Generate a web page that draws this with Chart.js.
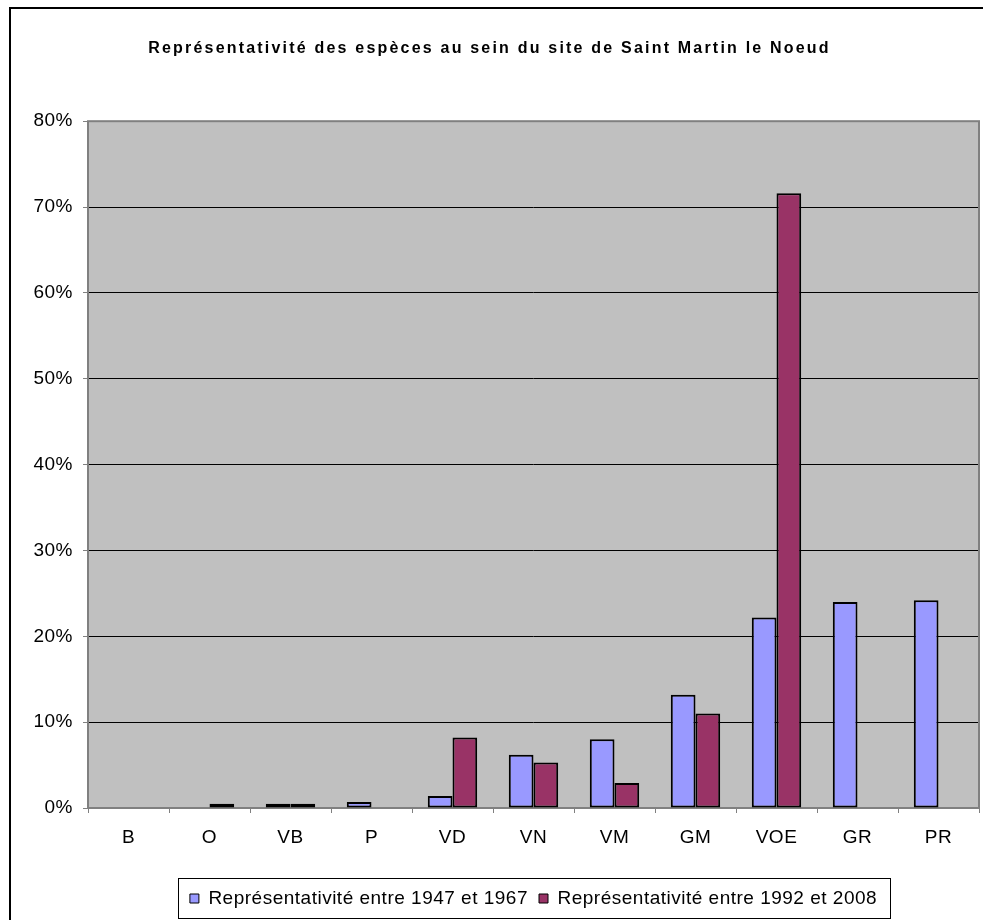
<!DOCTYPE html>
<html>
<head>
<meta charset="utf-8">
<script src="https://cdn.jsdelivr.net/npm/chart.js@4.4.0/dist/chart.umd.min.js"></script>
<style>
  body { margin: 0; background: #fff; }
  canvas { display: block; }
</style>
</head>
<body>
<canvas id="myChart" width="983" height="920"></canvas>
<script>
var categories = ["B", "O", "VB", "P", "VD", "VN", "VM", "GM", "VOE", "GR", "PR"];
var seriesLabels = ["Représentativité entre 1947 et 1967", "Représentativité entre 1992 et 2008"];
var values1947 = [0, 0, 0.5, 0.7, 1.4, 6.2, 8.0, 13.2, 22.2, 24.0, 24.2];
var values1992 = [0, 0.5, 0.5, 0, 8.2, 5.3, 2.9, 11.0, 71.6, 0, 0];
var yMax = 80;
var yStep = 10;
var titleText = "Représentativité des espèces au sein du site de Saint Martin le Noeud";

var fontFamily = "'Liberation Sans', Arial, sans-serif";

// plot background, frame, legend box, outer border
const decoPlugin = {
  id: "deco",
  afterInit(chart) {
    // title has wider letter spacing than the rest
    const tb = chart.titleBlock;
    const orig = tb.draw;
    tb.draw = function () {
      this.ctx.save();
      this.ctx.letterSpacing = "2.2px";
      orig.apply(this, arguments);
      this.ctx.restore();
    };
  },
  beforeLayout(chart) {
    chart.ctx.letterSpacing = "0.5px";
  },
  beforeDraw(chart) {
    const ctx = chart.ctx;
    const a = chart.chartArea;
    ctx.letterSpacing = "0.5px";
    ctx.save();
    ctx.fillStyle = "#fff";
    ctx.fillRect(0, 0, chart.width, chart.height);
    ctx.fillStyle = "#c0c0c0";
    ctx.fillRect(a.left, a.top, a.right - a.left, a.bottom - a.top);
    // outer frame
    ctx.strokeStyle = "#000";
    ctx.lineWidth = 2;
    ctx.beginPath();
    ctx.moveTo(10, chart.height + 5);
    ctx.lineTo(10, 8);
    ctx.lineTo(chart.width + 5, 8);
    ctx.stroke();
    ctx.restore();
  },
  beforeDatasetsDraw(chart) {
    const ctx = chart.ctx;
    const a = chart.chartArea;
    ctx.save();
    ctx.strokeStyle = "#808080";
    ctx.lineWidth = 2;
    ctx.strokeRect(a.left, a.top, a.right - a.left, a.bottom - a.top);
    ctx.restore();
  },
  afterDraw(chart) {
    const ctx = chart.ctx;
    const lg = chart.legend;
    const a = chart.chartArea;
    const cx = (a.left + a.right) / 2;
    ctx.save();
    ctx.strokeStyle = "#000";
    ctx.lineWidth = 1;
    ctx.strokeRect(Math.round(cx - 356) + 0.5, Math.round(lg.top) + 0.5, 712, 40);
    ctx.restore();
  }
};

const ctx = document.getElementById("myChart").getContext("2d");
const myChart = new Chart(ctx, {
  type: "bar",
  data: {
    labels: categories,
    datasets: [
      {
        label: seriesLabels[0],
        data: values1947,
        backgroundColor: "#9999ff",
        borderColor: "#000",
        borderWidth: 2,
        borderSkipped: false
      },
      {
        label: seriesLabels[1],
        data: values1992,
        backgroundColor: "#993366",
        borderColor: "#000",
        borderWidth: 2,
        borderSkipped: false
      }
    ]
  },
  options: {
    responsive: false,
    animation: false,
    devicePixelRatio: 1,
    layout: { padding: { left: 0, right: 4, top: 0, bottom: 2 } },
    datasets: { bar: { categoryPercentage: 0.61, barPercentage: 1.0 } },
    scales: {
      x: {
        grid: {
          drawOnChartArea: false,
          drawTicks: true,
          tickLength: 5,
          tickColor: "#808080",
          offset: true
        },
        border: { display: false },
        ticks: {
          color: "#000",
          padding: 13,
          font: { family: fontFamily, size: 19 }
        },
        afterFit(scale) {
          scale.height = 70;
        }
      },
      y: {
        min: 0,
        max: yMax,
        grid: {
          color: (c) => (c.tick && (c.tick.value === 0 || c.tick.value === yMax) ? "rgba(0,0,0,0)" : "#000"),
          lineWidth: 1,
          tickLength: 5,
          tickColor: "#808080"
        },
        border: { display: false },
        ticks: {
          stepSize: yStep,
          color: "#000",
          padding: 10,
          font: { family: fontFamily, size: 19 },
          callback: (v) => v + "%"
        },
        afterFit(scale) {
          scale.width = 88;
        }
      }
    },
    plugins: {
      title: {
        display: true,
        text: titleText,
        color: "#000",
        font: { family: fontFamily, size: 16, weight: "bold" },
        padding: { top: 39, bottom: 63 }
      },
      legend: {
        position: "bottom",
        fullSize: false,
        labels: {
          color: "#000",
          boxWidth: 9,
          boxHeight: 9,
          padding: 11,
          font: { family: fontFamily, size: 19 },
          generateLabels(chart) {
            return chart.data.datasets.map((ds, i) => ({
              text: ds.label,
              fillStyle: ds.backgroundColor,
              strokeStyle: "#000",
              lineWidth: 1,
              fontColor: "#000",
              datasetIndex: i
            }));
          }
        }
      },
      tooltip: { enabled: false }
    }
  },
  plugins: [decoPlugin]
});
</script>
</body>
</html>
